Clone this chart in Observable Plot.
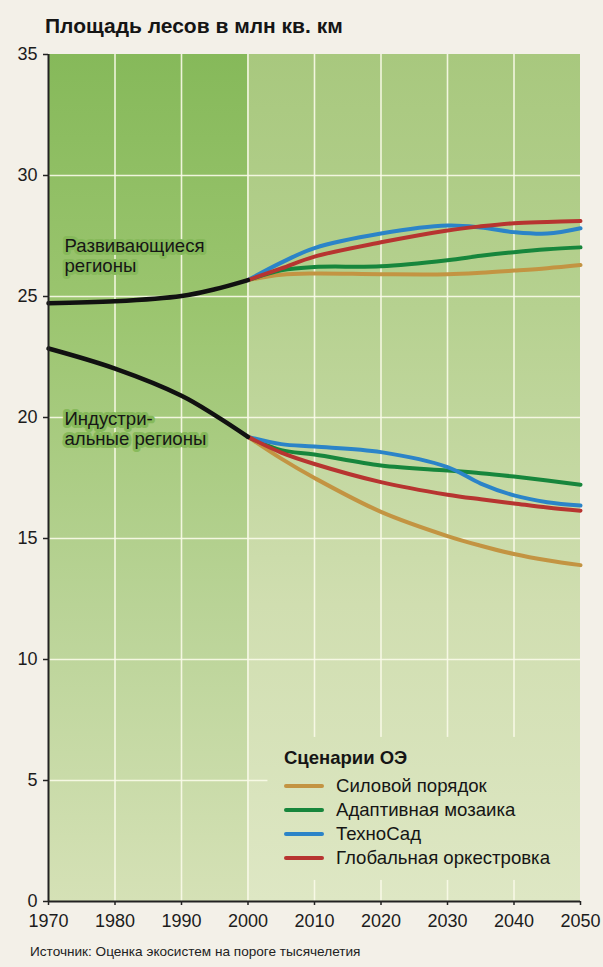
<!DOCTYPE html>
<html><head><meta charset="utf-8">
<script src="https://cdn.jsdelivr.net/npm/d3@7"></script>
<script src="https://cdn.jsdelivr.net/npm/@observablehq/plot@0.6"></script>
<style>
body{margin:0;background:#f3f0e8;font-family:"Liberation Sans",Arial,Helvetica,sans-serif;color:#151515;}
#wrap{position:relative;width:603px;height:967px;overflow:hidden;}
#title{position:absolute;left:45px;top:13px;font-weight:bold;font-size:21px;line-height:26px;white-space:nowrap;}
#chart{position:absolute;left:0;top:40px;}
#legend{position:absolute;left:284px;top:746px;font-size:18.6px;}
#legend .lt{font-weight:bold;line-height:24px;height:28px;font-size:18.5px;}
#legend .row{display:flex;align-items:center;height:24px;line-height:24px;white-space:nowrap;}
#legend .sw{display:inline-block;width:40px;height:4px;border-radius:2px;margin-right:12px;}
#footer{position:absolute;left:30px;top:944px;font-size:13.6px;line-height:16px;white-space:nowrap;color:#222;}
</style></head>
<body>
<div id="wrap">
  <div id="title">Площадь лесов в млн кв. км</div>
  <div id="chart"></div>
  <div id="legend"></div>
  <div id="footer">Источник: Оценка экосистем на пороге тысячелетия</div>
</div>
<script>
// ---- data ----
const xTicks = [1970, 1980, 1990, 2000, 2010, 2020, 2030, 2040, 2050];
const yTicks = [0, 5, 10, 15, 20, 25, 30, 35];

const histYears = [1970, 1980, 1990, 1995, 2000];
const developingHist = [24.72, 24.8, 25.02, 25.3, 25.68];
const industrialHist = [22.85, 22.02, 20.9, 20.1, 19.2];

const scenarioYears = [2000, 2005, 2010, 2020, 2030, 2035, 2040, 2045, 2050];
const scenarioNames = ["Силовой порядок", "Адаптивная мозаика", "ТехноСад", "Глобальная оркестровка"];
const scenarioColors = ["#c39442", "#17863c", "#2b84c8", "#b73430"];

// developing regions, per scenario (same order as scenarioNames)
const devOrder      = [25.68, 25.9, 25.95, 25.92, 25.92, 25.98, 26.07, 26.17, 26.3];
const devMosaic     = [25.68, 26.08, 26.22, 26.25, 26.5, 26.68, 26.83, 26.95, 27.03];
const devTechno     = [25.68, 26.4, 27.0, 27.6, 27.93, 27.85, 27.66, 27.6, 27.82];
const devGlobal     = [25.68, 26.16, 26.65, 27.24, 27.73, 27.9, 28.03, 28.08, 28.12];
// industrial regions
const indOrder      = [19.2, 18.3, 17.5, 16.1, 15.1, 14.7, 14.36, 14.1, 13.9];
const indMosaic     = [19.2, 18.65, 18.47, 18.02, 17.81, 17.7, 17.56, 17.4, 17.22];
const indTechno     = [19.2, 18.9, 18.8, 18.57, 17.95, 17.27, 16.78, 16.5, 16.36];
const indGlobal     = [19.2, 18.55, 18.08, 17.33, 16.81, 16.62, 16.45, 16.28, 16.15];

const regionLabels = ["Развивающиеся\nрегионы", "Индустри-\nальные регионы"];
const regionLabelX = [1972.4, 1972.4];
const regionLabelY = [27.42, 20.25];

const legendTitle = "Сценарии ОЭ";
// ---- build tables ----
const devSeries = [devOrder, devMosaic, devTechno, devGlobal];
const indSeries = [indOrder, indMosaic, indTechno, indGlobal];
const scenRows = [];
scenarioNames.forEach((name, i) => {
  scenarioYears.forEach((yr, j) => {
    scenRows.push({key: "dev-" + i, s: i, year: yr, value: devSeries[i][j]});
  });
  scenarioYears.forEach((yr, j) => {
    scenRows.push({key: "ind-" + i, s: i, year: yr, value: indSeries[i][j]});
  });
});
const histRows = [];
histYears.forEach((yr, j) => histRows.push({key: "dev", year: yr, value: developingHist[j]}));
histYears.forEach((yr, j) => histRows.push({key: "ind", year: yr, value: industrialHist[j]}));
const labelRows = regionLabels.map((t, i) => ({text: t, x: regionLabelX[i], y: regionLabelY[i]}));

const yMin = yTicks[0], yMax = yTicks[yTicks.length - 1];
const xMin = xTicks[0], xMax = xTicks[xTicks.length - 1];
const bands = [
  {x1: xMin, x2: 2000, fill: "url(#gL)"},
  {x1: 2000, x2: xMax, fill: "url(#gR)"}
];
const legendBox = [{x1: 2003, x2: xMax, y1: 0.87, y2: 6.78}];

const fontFam = '"Liberation Sans", Arial, Helvetica, sans-serif';

const plot = Plot.plot({
  width: 603,
  height: 895,
  marginTop: 14,
  marginBottom: 34,
  marginLeft: 48,
  marginRight: 23,
  style: {background: "transparent", fontFamily: fontFam, fontSize: "18px", color: "#1c1c1c", overflow: "visible"},
  x: {domain: [xMin, xMax]},
  y: {domain: [yMin, yMax]},
  marks: [
    Plot.rect(bands, {x1: "x1", x2: "x2", y1: yMin, y2: yMax, fill: d => d.fill}),
    Plot.ruleX(xTicks.slice(1, -1), {stroke: "#f9fbe9", strokeWidth: 1.6, strokeOpacity: 0.9}),
    Plot.ruleY(yTicks.slice(1, -1), {stroke: "#f9fbe9", strokeWidth: 1.6, strokeOpacity: 0.9}),
    Plot.rect(legendBox, {x1: "x1", x2: "x2", y1: "y1", y2: "y2", fill: "url(#gR)"}),
    Plot.line(scenRows, {x: "year", y: "value", z: "key", stroke: d => scenarioColors[d.s], strokeWidth: 4, curve: "catmull-rom", strokeLinecap: "round"}),
    Plot.line(histRows, {x: "year", y: "value", z: "key", stroke: "#111", strokeWidth: 4.5, curve: "catmull-rom", strokeLinecap: "round"}),
    Plot.text(labelRows, {x: "x", y: "y", text: "text", textAnchor: "start", lineAnchor: "top", lineHeight: 1.06, fontSize: 18.6, fill: "#161616", stroke: "url(#gL)", strokeWidth: 6}),
    Plot.ruleX([xMin], {stroke: "#222", strokeWidth: 2}),
    Plot.ruleY([yMin], {stroke: "#222", strokeWidth: 2}),
    // ticks only from the axes
    Plot.axisY({ticks: yTicks, tickSize: 5, text: null, label: null, stroke: "#222", strokeWidth: 1.5}),
    Plot.axisX({ticks: xTicks, tickSize: 4, text: null, label: null, stroke: "#222", strokeWidth: 1.5}),
    // tick labels
    Plot.text(yTicks, {y: d => d, text: d => String(d), frameAnchor: "left", textAnchor: "end", dx: -11, fontSize: 18, fill: "#1c1c1c"}),
    Plot.text(xTicks, {x: d => d, text: d => String(d), frameAnchor: "bottom", lineAnchor: "top", dy: 13, fontSize: 18, fill: "#1c1c1c"})
  ]
});

const svg = d3.select(plot);
// gradients for the two background bands
const ys = plot.scale("y");
const y0 = ys.apply(yMax), y1 = ys.apply(yMin);
const defs = svg.insert("defs", ":first-child");
function grad(id, stops) {
  const g = defs.append("linearGradient").attr("id", id)
    .attr("gradientUnits", "userSpaceOnUse")
    .attr("x1", 0).attr("x2", 0).attr("y1", y0).attr("y2", y1);
  stops.forEach(([o, c]) => g.append("stop").attr("offset", o).attr("stop-color", c));
}
grad("gL", [[0, "#86b95a"], [0.3, "#9bc56f"], [0.65, "#b9d396"], [1, "#d5e1b6"]]);
grad("gR", [[0, "#a8c87e"], [0.3, "#b6d190"], [0.65, "#d0deb0"], [1, "#dee7c4"]]);

document.getElementById("chart").appendChild(plot);

// legend
const lg = document.getElementById("legend");
const lt = document.createElement("div");
lt.className = "lt"; lt.textContent = legendTitle;
lg.appendChild(lt);
scenarioNames.forEach((n, i) => {
  const r = document.createElement("div"); r.className = "row";
  const sw = document.createElement("span"); sw.className = "sw"; sw.style.background = scenarioColors[i];
  const t = document.createElement("span"); t.textContent = n;
  r.appendChild(sw); r.appendChild(t); lg.appendChild(r);
});
</script>
</body></html>
